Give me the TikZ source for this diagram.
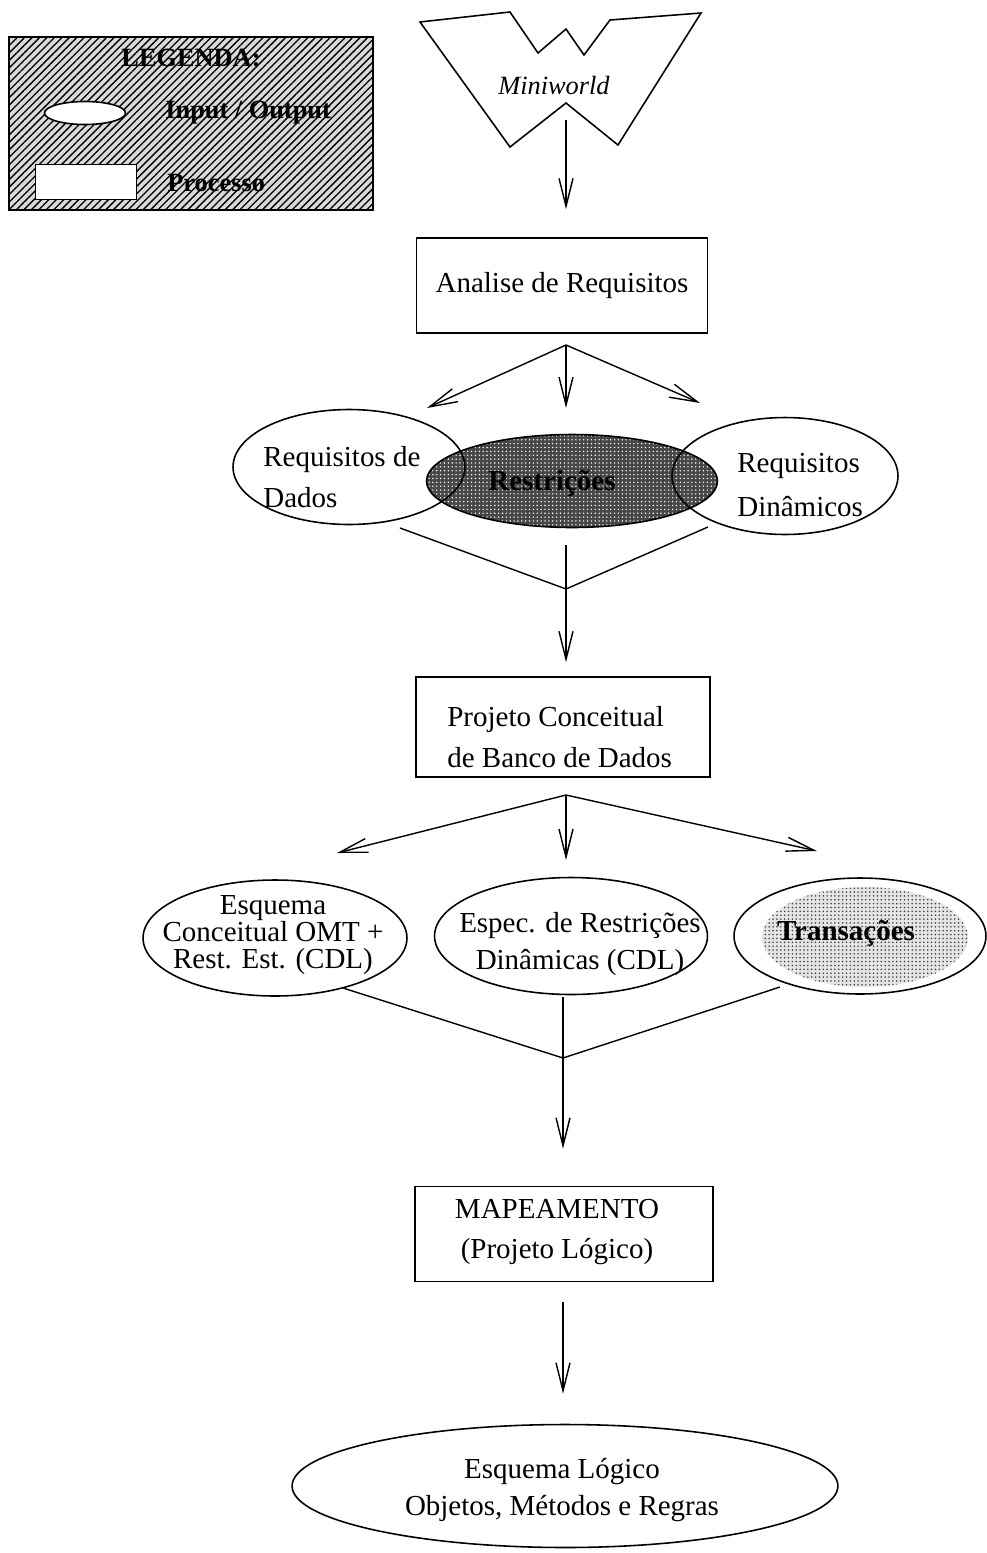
\documentclass[tikz,border=0pt]{standalone}
\usepackage{fontspec}
\setmainfont{Liberation Serif}
\usetikzlibrary{arrows.meta,calc,shapes.geometric,patterns.meta}
\newcommand{\diagfont}{\fontsize{16.5}{23}\selectfont}
\newcommand{\legfont}{\fontsize{15}{18}\selectfont\bfseries}
\tikzset{
  procbox/.style={draw, line width=0.9pt, fill=white, align=center, font=\diagfont, inner sep=0pt},
  ioellipse/.style={draw, ellipse, line width=0.9pt, inner sep=0pt},
  txt/.style={align=center, font=\diagfont, inner sep=0pt},
  legtxt/.style={font=\legfont, inner sep=0pt},
  arrow/.style={-{Straight Barb[length=0.56cm,width=0.28cm]}, line width=0.8pt},
  joinline/.style={line width=0.8pt}
}

\begin{document}
\begin{tikzpicture}[x=0.02cm, y=-0.02cm]
  \useasboundingbox (0,0) rectangle (987,1553);

  % legenda
  \node[draw, line width=0.9pt, minimum width=7.28cm, minimum height=3.46cm, inner sep=0pt,
        preaction={fill=black!15}, pattern={Lines[angle=45,distance=3pt,line width=0.75pt]}] (legend) at (191,123.5) {};
  \node[legtxt] (legtitle) at (191,58) {LEGENDA:};
  \node[ioellipse, fill=white, minimum width=1.62cm, minimum height=0.46cm] (legio) at (85,113) {};
  \node[legtxt, anchor=west] (legiotxt) at (165,113) {Input / Output};
  \node[draw, line width=0.9pt, fill=white, minimum width=2.02cm, minimum height=0.7cm] (legproc) at (86,182) {};
  \node[legtxt, anchor=west] (legproctxt) at (167,183) {Processo};

  % miniworld
  \draw[line width=0.9pt, line join=miter] (420,22) -- (510,12) -- (538,53) -- (566,29) -- (584,55)
    -- (610,20) -- (701,13) -- (618,145) -- (566,103) -- (510,147) -- cycle;
  \node[font=\fontsize{15}{18}\selectfont\itshape, inner sep=0pt] (mini) at (554,85) {Miniworld};
  \coordinate (miniout) at (566,120);

  % processos
  \node[procbox, minimum width=5.82cm, minimum height=1.9cm] (ana) at (562,285.5) {Analise de Requisitos};
  \node[procbox, minimum width=5.88cm, minimum height=2cm] (proj) at (563,727) {};
  \node[txt, align=left, anchor=west] (projtxt) at (447,737) {Projeto Conceitual\\de Banco de Dados};
  \node[procbox, minimum width=5.96cm, minimum height=1.9cm] (mapa) at (564,1234) {};
  \node[txt] (mapatxt) at (557,1232) {MAPEAMENTO\\(Projeto L\'ogico)};

  % requisitos
  \node[ioellipse, minimum width=5.82cm, minimum height=1.86cm,
        preaction={fill=black!72}, pattern={Dots[distance=2.2pt,radius=0.45pt]}, pattern color=white] (restr) at (572,481) {};
  \node[txt, font=\diagfont\bfseries] (restrtxt) at (552,483) {Restrições};
  \node[ioellipse, minimum width=4.64cm, minimum height=2.3cm] (dados) at (349,467) {};
  \node[txt, align=left, anchor=west, font=\fontsize{16.5}{23.5}\selectfont] (dadostxt) at (263,477) {Requisitos de\\Dados};
  \node[ioellipse, minimum width=4.52cm, minimum height=2.34cm] (dinam) at (785,476) {};
  \node[txt, align=left, anchor=west, font=\fontsize{16.5}{25}\selectfont] (dinamtxt) at (737,485) {Requisitos\\Dinâmicos};

  % esquemas
  \node[ioellipse, minimum width=5.28cm, minimum height=2.32cm] (esq) at (275,938) {};
  \node[txt, font=\fontsize{16.5}{15.5}\selectfont] (esqtxt) at (273,935) {Esquema\\Conceitual OMT +\\Rest. Est. (CDL)};
  \node[ioellipse, minimum width=5.46cm, minimum height=2.34cm] (espec) at (571,936) {};
  \node[txt, font=\fontsize{16.5}{21}\selectfont] (spectxt) at (580,944) {Espec. de Restrições\\Dinâmicas (CDL)};
  \node[ioellipse, minimum width=5.04cm, minimum height=2.32cm] (trans) at (860,936) {};
  \node[ellipse, inner sep=0pt, minimum width=4.12cm, minimum height=2cm,
        preaction={fill=black!10}, pattern={Dots[distance=2.2pt,radius=0.5pt]}, pattern color=black!75] (transin) at (865,937) {};
  \node[txt, font=\diagfont\bfseries] (transtxt) at (846,933) {Transações};

  \node[ioellipse, minimum width=10.92cm, minimum height=2.46cm] (logico) at (565,1486) {};
  \node[txt, font=\fontsize{16.5}{21}\selectfont] (logicotxt) at (562,1490) {Esquema L\'ogico\\Objetos, Métodos e Regras};

  % conectores
  \draw[arrow, shorten >=0.56cm] (miniout) -- (miniout |- ana.north);

  \coordinate (anaout) at (566,345);
  \coordinate (dadosin) at (427,408);
  \coordinate (restrin) at (566,408);
  \coordinate (dinamin) at (700,403);
  \draw[arrow] (anaout) -- (dadosin);
  \draw[arrow] (anaout) -- (restrin);
  \draw[arrow] (anaout) -- (dinamin);

  \coordinate (joinA) at (566,589);
  \draw[joinline] (400,528) coordinate (dadosout) -- (joinA) -- (708,527) coordinate (dinamout);
  \draw[joinline] (566,545) coordinate (restrout) -- (joinA);
  \draw[arrow, shorten >=0.28cm] (joinA) -- (joinA |- proj.north);

  \coordinate (projout) at (566,795);
  \coordinate (esqin) at (337,853);
  \coordinate (specin) at (566,860);
  \coordinate (transin) at (817,851);
  \draw[arrow] (projout) -- (esqin);
  \draw[arrow] (projout) -- (specin);
  \draw[arrow] (projout) -- (transin);

  \coordinate (joinB) at (563,1058);
  \draw[joinline] (343,988) coordinate (esqout) -- (joinB) -- (780,987) coordinate (transout);
  \draw[joinline] (563,997) coordinate (specout) -- (joinB);
  \draw[arrow, shorten >=0.74cm] (joinB) -- (joinB |- mapa.north);

  \coordinate (mapaout) at (563,1302);
  \draw[arrow, shorten >=0.6cm] (mapaout) -- (mapaout |- logico.north);
\end{tikzpicture}
\end{document}
